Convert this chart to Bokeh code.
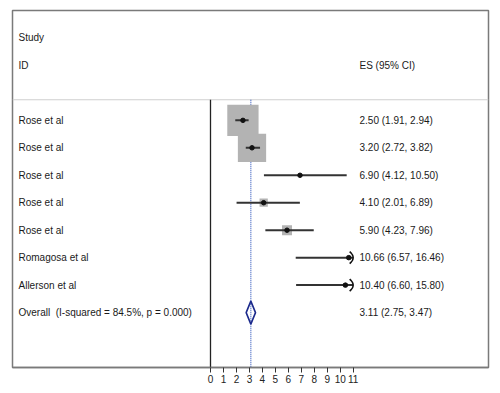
import numpy as np
from bokeh.plotting import figure
from bokeh.models import Range1d, FixedTicker
from bokeh.embed import file_html
from bokeh.resources import INLINE
from bokeh.core.properties import value

# ---------------- data ----------------
studies = ["Rose et al", "Rose et al", "Rose et al", "Rose et al", "Rose et al",
           "Romagosa et al", "Allerson et al"]
es = [2.50, 3.20, 6.90, 4.10, 5.90, 10.66, 10.40]
ci_lower = [1.91, 2.72, 4.12, 2.01, 4.23, 6.57, 6.60]
ci_upper = [2.94, 3.82, 10.50, 6.89, 7.96, 16.46, 15.80]
weights = [49.0, 40.0, 0.6, 3.4, 5.0, 1.0, 1.0]
overall_es = 3.11
overall_lower = 2.75
overall_upper = 3.47
i_squared = 84.5
p_value = 0.000
x_ticks = list(range(0, 12))
axis_max = 11

# ---------------- geometry ----------------
FONT = "Liberation Sans"
PX_X = 12.97           # pixels per x unit
BL, BR, BT, BB = 12, 4, 10, 18
frame_w = 476
frame_h = 357
W = BL + frame_w + BR
H = BT + frame_h + BB
x0 = -198 / PX_X
x1 = x0 + frame_w / PX_X
y_top, y_bot = -4.0, 9.0
PX_Y = frame_h / (y_bot - y_top)

p = figure(width=W, height=H, output_backend="svg", toolbar_location=None,
           x_range=Range1d(x0, x1), y_range=Range1d(y_bot, y_top),
           y_axis_location=None, min_border_left=BL, min_border_right=BR,
           min_border_top=BT, min_border_bottom=BB)
p.grid.visible = False
p.outline_line_color = "#7a7a7a"
p.outline_line_width = 1.5
p.background_fill_color = "white"
p.border_fill_color = "white"

ax = p.xaxis[0]
ax.ticker = FixedTicker(ticks=x_ticks)
ax.axis_line_color = "#7a7a7a"
ax.axis_line_width = 1.5
ax.major_tick_line_color = "#333333"
ax.major_tick_in = 0
ax.major_tick_out = 5
ax.minor_tick_line_color = None
ax.major_label_standoff = 2
ax.major_label_text_font = FONT
ax.major_label_text_font_size = "10px"
ax.major_label_text_color = "#222222"

n = len(studies)
rows = list(range(n))
overall_row = n
header_row = -0.75

# header divider
p.segment(x0=[x0], y0=[header_row], x1=[x1], y1=[header_row],
          line_color="#cfcfcf", line_width=1.2)
# null line at 0
p.segment(x0=[0], y0=[header_row], x1=[0], y1=[y_bot],
          line_color="#222222", line_width=1.3)
# overall dotted line
p.segment(x0=[overall_es], y0=[header_row], x1=[overall_es], y1=[y_bot],
          line_color="#3a5fc0", line_width=1.2, line_dash="1 1")

# weight boxes
box_size = [4.47 * np.sqrt(w) for w in weights]
p.scatter(x=es, y=rows, size=box_size, marker="square",
          fill_color="#b3b3b3", line_color=None)

# CI lines (clipped at axis max)
clip_hi = [min(u, axis_max) for u in ci_upper]
p.segment(x0=ci_lower, y0=rows, x1=clip_hi, y1=rows,
          line_color="#333333", line_width=2)

# arrow heads where CI exceeds axis
t = np.linspace(-1, 1, 9)
for r, u in zip(rows, ci_upper):
    if u > axis_max:
        xs = axis_max - (3.5 * t ** 2) / PX_X
        ys = r + (6.0 * t) / PX_Y
        p.line(x=xs, y=ys, line_color="#111111", line_width=1.5)

# point estimates
p.scatter(x=es, y=rows, size=4.5, marker="circle",
          fill_color="#111111", line_color="#111111")

# overall diamond
h = 11.5 / PX_Y
p.patch(x=[overall_lower, overall_es, overall_upper, overall_es, overall_lower],
        y=[overall_row, overall_row - h, overall_row, overall_row + h, overall_row],
        fill_alpha=0, line_color="#1c2a8c", line_width=1.6)

# texts
lab_x = (18 - 210) / PX_X
es_x = (359 - 210) / PX_X
es_labels = [f"{e:.2f} ({lo:.2f}, {hi:.2f})" for e, lo, hi in zip(es, ci_lower, ci_upper)]
overall_label = f"Overall\u00a0 (I-squared = {i_squared:.1f}%, p = {p_value:.3f})"
overall_es_label = f"{overall_es:.2f} ({overall_lower:.2f}, {overall_upper:.2f})"

left_texts = ["Study", "ID"] + studies + [overall_label]
left_rows = [-3, -2] + rows + [overall_row]
p.text(x=[lab_x] * len(left_texts), y=left_rows, text=left_texts,
       text_font=value(FONT), text_font_size="10px", text_color="#1a1a1a",
       text_baseline="middle", text_align="left")

right_texts = ["ES (95% CI)"] + es_labels + [overall_es_label]
right_rows = [-2] + rows + [overall_row]
p.text(x=[es_x] * len(right_texts), y=right_rows, text=right_texts,
       text_font=value(FONT), text_font_size="10px", text_color="#1a1a1a",
       text_baseline="middle", text_align="left")

open("out.html", "w").write(file_html(p, INLINE))
